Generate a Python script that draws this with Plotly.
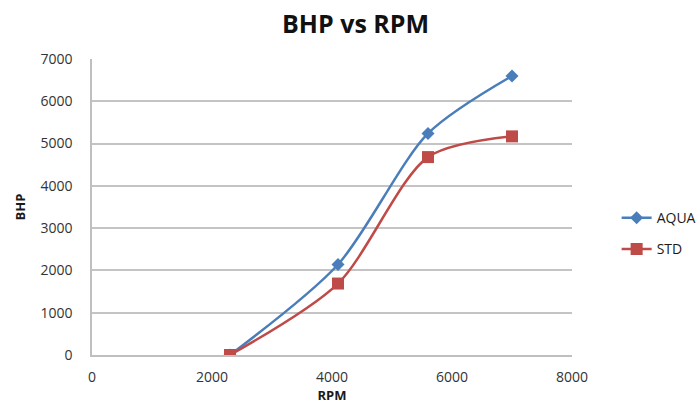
import plotly.graph_objects as go

# Engine speed (RPM) and brake horsepower for each configuration
rpm = [2300, 4100, 5600, 7000]
bhp_aqua = [0, 2140, 5240, 6600]
bhp_std = [0, 1690, 4680, 5170]

x_ticks = [0, 2000, 4000, 6000, 8000]
y_ticks = [0, 1000, 2000, 3000, 4000, 5000, 6000, 7000]

fig = go.Figure()
fig.add_trace(go.Scatter(
    x=rpm, y=bhp_aqua, name="AQUA", mode="lines+markers", legendgroup="aqua",
    line=dict(color="#4a7ebb", width=2.5, shape="spline", smoothing=0.8),
    marker=dict(symbol="diamond", size=10, color="#4a7ebb"),
))
fig.add_trace(go.Scatter(
    x=rpm, y=bhp_std, name="STD", mode="lines+markers", legendgroup="std",
    line=dict(color="#be4b48", width=2.5, shape="spline", smoothing=0.8),
    marker=dict(symbol="square", size=12, color="#be4b48"),
))

fig.update_layout(
    width=700, height=408,
    margin=dict(l=92, r=128, t=59, b=53, autoexpand=False),
    paper_bgcolor="white", plot_bgcolor="white",
    font=dict(family="Open Sans, Liberation Sans, sans-serif", size=14, color="#333333"),
    title=dict(text="<b>BHP vs RPM</b>", x=0.508, xanchor="center", y=0.94, yanchor="middle",
               font=dict(size=25, color="#111111"), automargin=False),
    showlegend=True,
    legend=dict(x=1.093, xanchor="left", y=0.41, yanchor="middle",
                font=dict(size=14, color="#1a1a1a"), tracegroupgap=10,
                bgcolor="rgba(0,0,0,0)"),
    xaxis=dict(
        range=[0, 8000], tickvals=x_ticks, showgrid=False, zeroline=False,
        showline=True, linecolor="#bfbfbf", linewidth=1.5, automargin=False,
        ticks="", ticklen=0, ticklabelstandoff=8,
        title=dict(text="<b>RPM</b>", font=dict(size=13, color="#1a1a1a"), standoff=6),
    ),
    yaxis=dict(
        range=[0, 7000], tickvals=y_ticks, showgrid=True, gridcolor="#c4c4c4", gridwidth=1.5,
        zeroline=False, showline=True, linecolor="#bfbfbf", linewidth=1.5, automargin=False,
        ticks="", ticklen=0, ticklabelstandoff=15,
        title=dict(text="<b>BHP</b>", font=dict(size=13, color="#1a1a1a"), standoff=12),
    ),
)

fig.write_html("out.html")
